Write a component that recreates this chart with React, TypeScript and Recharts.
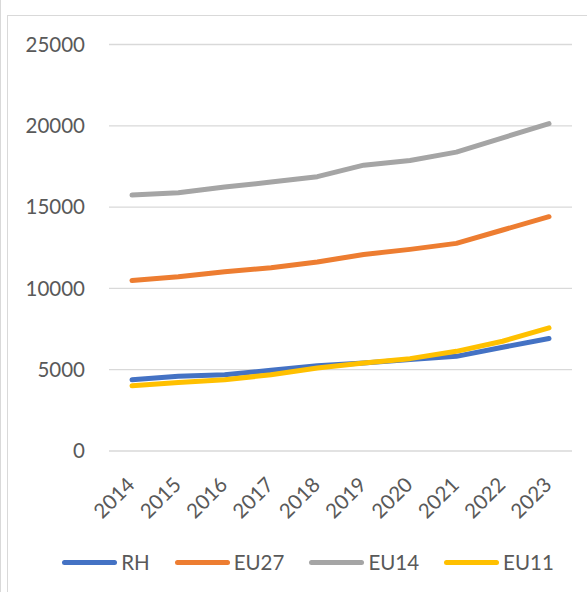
import React from "react";
import { CartesianGrid, Line, LineChart, XAxis, YAxis } from "recharts";

const YEARS = ["2014", "2015", "2016", "2017", "2018", "2019", "2020", "2021", "2022", "2023"];
const RH = [4380, 4590, 4690, 4960, 5250, 5410, 5620, 5820, 6380, 6920];
const EU27 = [10490, 10720, 11030, 11270, 11620, 12090, 12400, 12770, 13590, 14410];
const EU14 = [15740, 15880, 16230, 16540, 16870, 17580, 17870, 18380, 19260, 20130];
const EU11 = [4010, 4220, 4380, 4690, 5100, 5410, 5680, 6130, 6750, 7570];
const Y_TICKS = [0, 5000, 10000, 15000, 20000, 25000];

const SERIES = [
  { key: "RH", values: RH, color: "#4472C4" },
  { key: "EU27", values: EU27, color: "#ED7D31" },
  { key: "EU14", values: EU14, color: "#A5A5A5" },
  { key: "EU11", values: EU11, color: "#FFC000" },
];

const data = YEARS.map((year, i) => {
  const row: Record<string, string | number> = { year };
  SERIES.forEach((s) => {
    row[s.key] = s.values[i];
  });
  return row;
});

const TEXT = "#595959";
const FONT = "Lato, 'Noto Sans', sans-serif";

type TickProps = { x?: number; y?: number; payload?: { value: string } };

const YearTick = ({ x = 0, y = 0, payload }: TickProps) => {
  const ax = x + 4;
  const ay = y + 35;
  return (
    <text
      x={ax}
      y={ay}
      transform={`rotate(-45, ${ax}, ${ay})`}
      textAnchor="end"
      fill={TEXT}
      fontSize={20.5}
      fontFamily={FONT}
    >
      {payload?.value}
    </text>
  );
};

export default function App() {
  return (
    <div
      style={{
        position: "absolute",
        left: 0,
        top: 0,
        width: 587,
        height: 592,
        overflow: "hidden",
        background: "#fff",
        fontFamily: FONT,
      }}
    >
      <div style={{ position: "absolute", left: 0, top: 0, width: 1, height: 592, background: "#d9d9d9" }} />
      <div
        style={{
          position: "absolute",
          left: 7,
          top: 15,
          width: 620,
          height: 600,
          borderLeft: "1px solid #d9d9d9",
          borderTop: "1px solid #d9d9d9",
        }}
      />
      <div style={{ position: "absolute", left: 8, top: 15 }}>
        <LineChart
          width={600}
          height={577}
          data={data}
          margin={{ top: 29.5, right: 36, left: 0, bottom: 0 }}
        >
          <CartesianGrid vertical={false} stroke="#d9d9d9" strokeWidth={1.3} />
          <XAxis
            dataKey="year"
            axisLine={false}
            tickLine={false}
            tickSize={0}
            tickMargin={0}
            height={141}
            interval={0}
            padding={{ left: 23, right: 23 }}
            tick={<YearTick />}
          />
          <YAxis
            domain={[0, 25000]}
            ticks={Y_TICKS}
            axisLine={false}
            tickLine={false}
            tickSize={0}
            tickMargin={24}
            width={101}
            tick={{ fill: TEXT, fontSize: 20.5, fontFamily: FONT }}
          />
          {SERIES.map((s) => (
            <Line
              key={s.key}
              type="linear"
              dataKey={s.key}
              stroke={s.color}
              strokeWidth={5}
              strokeLinecap="round"
              strokeLinejoin="round"
              dot={false}
              activeDot={false}
              isAnimationActive={false}
            />
          ))}
        </LineChart>
      </div>
      <div
        style={{
          position: "absolute",
          left: 8,
          top: 549,
          width: 600,
          height: 26,
          display: "flex",
          justifyContent: "center",
          alignItems: "center",
        }}
      >
        {SERIES.map((s, i) => (
          <div
            key={s.key}
            style={{
              display: "flex",
              alignItems: "center",
              marginLeft: i === 0 ? 0 : 25,
            }}
          >
            <div style={{ width: 55, height: 5, borderRadius: 3, background: s.color }} />
            <span style={{ marginLeft: 4, color: TEXT, fontSize: 20.5, lineHeight: "26px" }}>{s.key}</span>
          </div>
        ))}
      </div>
    </div>
  );
}
